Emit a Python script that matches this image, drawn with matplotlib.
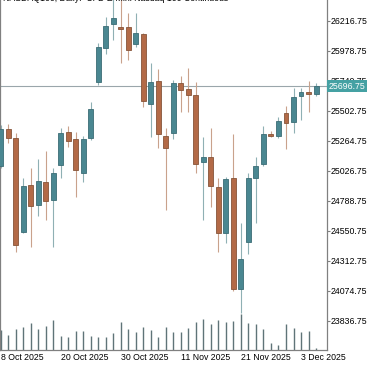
import numpy as np
import matplotlib
matplotlib.use("Agg")
import matplotlib.pyplot as plt

plt.rcParams['font.family'] = ['Liberation Sans', 'DejaVu Sans']

# daily bars, 8 Oct 2025 .. 5 Dec 2025
dates = ['2025-10-08', '2025-10-09', '2025-10-10', '2025-10-13', '2025-10-14', '2025-10-15',
         '2025-10-16', '2025-10-17', '2025-10-20', '2025-10-21', '2025-10-22', '2025-10-23',
         '2025-10-24', '2025-10-27', '2025-10-28', '2025-10-29', '2025-10-30', '2025-10-31',
         '2025-11-03', '2025-11-04', '2025-11-05', '2025-11-06', '2025-11-07', '2025-11-10',
         '2025-11-11', '2025-11-12', '2025-11-13', '2025-11-14', '2025-11-17', '2025-11-18',
         '2025-11-19', '2025-11-20', '2025-11-21', '2025-11-24', '2025-11-25', '2025-11-26',
         '2025-11-27', '2025-11-28', '2025-12-01', '2025-12-02', '2025-12-03', '2025-12-04',
         '2025-12-05']

opens = [25066, 25355, 25289, 24543, 24913, 24755, 24940, 24794, 25072, 25331, 25276, 25011,
         25284, 25733, 25998, 26188, 26164, 26164, 26032, 26111, 25556, 25741, 25302, 25328,
         25725, 25673, 25627, 25096, 25138, 24900, 24530, 24967, 24086, 24464, 24967, 25080,
         25316, 25302, 25487, 25416, 25622, 25654, 25635]
highs = [25389, 25397, 25326, 24967, 25046, 25117, 25183, 25046, 25363, 25381, 25336, 25302,
         25574, 26042, 26244, 26395, 26420, 26276, 26276, 26117, 25884, 25831, 25363, 25746,
         25778, 25839, 25733, 25297, 25363, 24967, 24979, 25318, 24610, 25006, 25138, 25381,
         25342, 25455, 25540, 25681, 25685, 25741, 25725]
lows = [25048, 25244, 24384, 24533, 24424, 24667, 24636, 24419, 24967, 25212, 24816, 24940,
        25270, 25707, 25953, 26064, 25879, 25905, 26011, 25535, 25297, 25205, 24715, 25276,
        25495, 25495, 25006, 24636, 24741, 24384, 24456, 24075, 23895, 24366, 24610, 25064,
        25292, 25284, 25197, 25328, 25429, 25495, 25619]
closes = [25358, 25286, 24437, 24905, 24749, 24948, 24789, 25011, 25324, 25265, 25032, 25276,
          25514, 26010, 26175, 26236, 26149, 25984, 26117, 25582, 25733, 25318, 25205, 25720,
          25667, 25627, 25080, 25135, 24905, 24530, 24959, 24086, 24324, 24967, 25064, 25318,
          25302, 25424, 25403, 25609, 25649, 25633, 25696.75]
volumes = [400000, 300000, 414000, 466000, 534000, 414000, 480000, 600000, 280000, 254000,
           380000, 386000, 280000, 266000, 266000, 334000, 566000, 414000, 366000, 466000,
           400000, 254000, 466000, 366000, 366000, 434000, 566000, 614000, 520000, 600000,
           566000, 586000, 720000, 546000, 520000, 414000, 134000, 100000, 520000, 434000,
           366000, 386000, 34000]

date_labels = ['8 Oct 2025', '20 Oct 2025', '30 Oct 2025', '11 Nov 2025', '21 Nov 2025', '3 Dec 2025']
label_dates = ['2025-10-08', '2025-10-20', '2025-10-30', '2025-11-11', '2025-11-21', '2025-12-03']

price_ticks = [23836.75 + 238 * k for k in range(11)]
last_price = closes[-1]

up_col, down_col = '#4a8791', '#b36a47'
up_edge, down_edge = '#3b6d75', '#86553a'

fig = plt.figure(figsize=(3.75, 3.66), dpi=100, facecolor='white')
ax = fig.add_axes([0, 16 / 366, 326.7 / 375, 350 / 366])
ax2 = ax.twinx()

x = np.arange(len(dates))
o = np.array(opens, dtype=float)
h = np.array(highs, dtype=float)
l = np.array(lows, dtype=float)
c = np.array(closes, dtype=float)
up = c >= o

# volume at the bottom
ax2.vlines(x, 0, volumes, color='#5f7478', lw=1.0)
ax2.set_ylim(0, 7000000)
ax2.axis('off')

ax.set_zorder(ax2.get_zorder() + 1)
ax.patch.set_visible(False)

# candles
wick_cols = np.where(up, '#8fb0b4', '#c9a28c')
ax.vlines(x, l, h, color=wick_cols, lw=0.8, zorder=2)
ax.bar(x, np.abs(c - o), bottom=np.minimum(o, c), width=0.66,
       color=np.where(up, up_col, down_col), edgecolor=np.where(up, up_edge, down_edge),
       linewidth=0.6, zorder=3)

# last price line + label
ax.axhline(last_price, color='#9aa6ab', lw=0.8, zorder=1)
ax.text(1.006, last_price, f'{last_price:.2f}', transform=ax.get_yaxis_transform(),
        ha='left', va='center', fontsize=6.3, color='white', clip_on=False, zorder=10,
        bbox=dict(boxstyle='square,pad=0.18', fc='#45a1a3', ec='none'))

ax.set_xlim(-0.08, 43.42)
ax.set_ylim(23604.4, 26381.0)

ax.yaxis.tick_right()
ax.set_yticks(price_ticks)
ax.set_yticklabels([f'{t:.2f}' for t in price_ticks])
ax.tick_params(axis='y', length=2, width=0.8, color='#808080', pad=0.5, labelsize=6.3)

ax.set_xticks([dates.index(d) for d in label_dates])
ax.set_xticklabels(date_labels, ha='left')
ax.tick_params(axis='x', length=0, pad=2.5, labelsize=6.3)

for side in ['right', 'bottom', 'left']:
    ax.spines[side].set_color('#808080')
    ax.spines[side].set_linewidth(0.9)
ax.spines['top'].set_visible(False)

# chart caption, only its lower half shows at the top edge
fig.text(3 / 375, 1 - 1 / 366, 'NASDAQ100, Daily:  CFD E-Mini Nasdaq 100 Continuous',
         ha='left', va='baseline', fontsize=6.3, color='black')

fig.savefig('out.png', dpi=100, facecolor='white')
